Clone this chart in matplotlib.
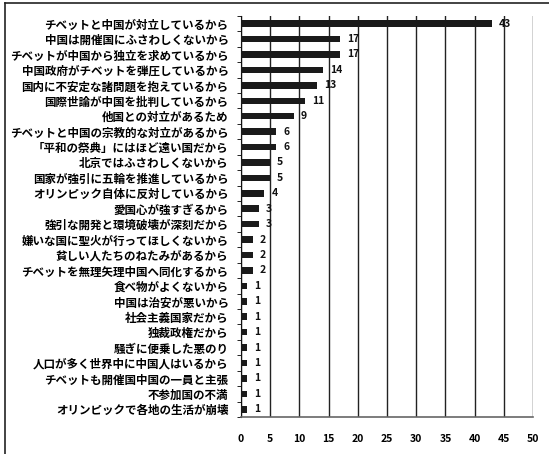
import matplotlib
matplotlib.use("Agg")
import matplotlib.pyplot as plt
import numpy as np
from matplotlib.lines import Line2D

plt.rcParams['font.family'] = ['Noto Sans CJK JP', 'DejaVu Sans']

reasons = [
    "チベットと中国が対立しているから",
    "中国は開催国にふさわしくないから",
    "チベットが中国から独立を求めているから",
    "中国政府がチベットを弾圧しているから",
    "国内に不安定な諸問題を抱えているから",
    "国際世論が中国を批判しているから",
    "他国との対立があるため",
    "チベットと中国の宗教的な対立があるから",
    "「平和の祭典」にはほど遠い国だから",
    "北京ではふさわしくないから",
    "国家が強引に五輪を推進しているから",
    "オリンピック自体に反対しているから",
    "愛国心が強すぎるから",
    "強引な開発と環境破壊が深刻だから",
    "嫌いな国に聖火が行ってほしくないから",
    "貧しい人たちのねたみがあるから",
    "チベットを無理矢理中国へ同化するから",
    "食べ物がよくないから",
    "中国は治安が悪いから",
    "社会主義国家だから",
    "独裁政権だから",
    "騒ぎに便乗した悪のり",
    "人口が多く世界中に中国人はいるから",
    "チベットも開催国中国の一員と主張",
    "不参加国の不満",
    "オリンピックで各地の生活が崩壊",
]
counts = [43, 17, 17, 14, 13, 11, 9, 6, 6, 5, 5, 4, 3, 3, 2, 2, 2,
          1, 1, 1, 1, 1, 1, 1, 1, 1]

fig = plt.figure(figsize=(5.49, 4.54), dpi=100)
ax = fig.add_axes([0.439, 0.0815, 0.532, 0.8835])

y = np.arange(len(reasons))
bars = ax.barh(y, counts, height=0.42, color="#1a1a1a", zorder=3)
ax.bar_label(bars, labels=[str(c) for c in counts], padding=5,
             fontsize=7.5, fontweight="bold", color="#111111")

ax.set_xlim(0, 50)
ax.set_ylim(len(reasons) - 0.5, -0.5)
ax.set_xticks(range(0, 51, 5))
ax.set_yticks(y)
ax.set_yticklabels(reasons, fontsize=8.3, fontweight="bold")
ax.set_yticks(np.arange(-0.5, len(reasons), 1), minor=True)
ax.tick_params(axis="y", which="major", length=0, pad=9)
ax.tick_params(axis="y", which="minor", length=3, direction="out")
ax.tick_params(axis="x", length=0, pad=12, labelsize=7.5)
for lab in ax.get_xticklabels():
    lab.set_fontweight("bold")

ax.grid(axis="x", color="#222222", linewidth=1.0, zorder=1)
for s in ["top", "right"]:
    ax.spines[s].set_visible(False)
ax.spines["left"].set_color("#111111")
ax.spines["bottom"].set_color("#666666")
ax.spines["bottom"].set_linewidth(1.2)

# outer border (left and top)
fig.add_artist(Line2D([0.009, 0.009], [0, 0.993], color="#222222", lw=1.2))
fig.add_artist(Line2D([0.009, 1], [0.993, 0.993], color="#222222", lw=1.2))

fig.savefig("out.png", dpi=100)
